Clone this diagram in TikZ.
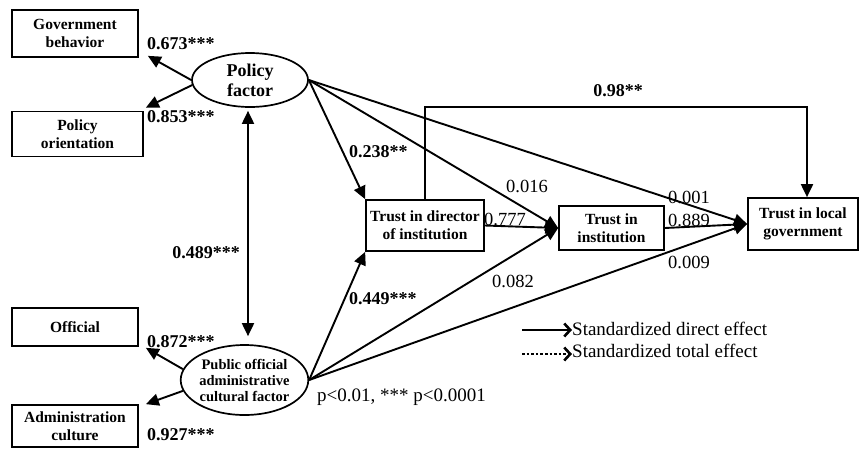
\documentclass[tikz,border=0pt]{standalone}
\usepackage{fontspec}
\setmainfont{Liberation Serif}
\usetikzlibrary{arrows.meta,calc,shapes.geometric}
\begin{document}
\begin{tikzpicture}[x=1pt,y=-1pt,
  box/.style={draw, line width=1.7pt, align=center, inner sep=0pt, font=\fontsize{15.5}{18}\selectfont\bfseries},
  ell/.style={draw, ellipse, line width=1.7pt, align=center, inner sep=0pt},
  arr/.style={line width=1.9pt, -{Triangle[length=13pt,width=12pt]}},
  dbl/.style={line width=1.9pt, {Triangle[length=13pt,width=12pt]}-{Triangle[length=13pt,width=12pt]}},
  lbl/.style={inner sep=0pt, font=\fontsize{18}{20}\selectfont\bfseries},
  num/.style={inner sep=0pt, font=\fontsize{18.5}{20}\selectfont},
  leg/.style={inner sep=0pt, anchor=west, font=\fontsize{19}{21}\selectfont}]
\useasboundingbox (0,0) rectangle (859,448);

% boxes
\node[box, minimum width=126pt, minimum height=47pt] (gov) at (75,33.5) {Government\\behavior};
\node[box, minimum width=131pt, minimum height=45pt] (por) at (77.5,134) {Policy\\orientation};
\node[box, minimum width=126pt, minimum height=38pt] (off) at (75,327) {Official};
\node[box, minimum width=126pt, minimum height=42pt] (adm) at (75,426) {Administration\\culture};
\node[box, minimum width=118pt, minimum height=51pt] (tdi) at (425,225.5) {Trust in director\\of institution};
\node[box, minimum width=105pt, minimum height=44pt] (tin) at (611.5,228) {Trust in\\institution};
\node[box, minimum width=110pt, minimum height=52pt] (tlg) at (803,224) {Trust in local\\government};

% ellipses
\node[ell, minimum width=116pt, minimum height=54pt, font=\fontsize{18}{20}\selectfont\bfseries] (pf) at (250,80) {Policy\\factor};
\node[ell, minimum width=123pt, minimum height=70pt, font=\fontsize{14.5}{16}\selectfont\bfseries] (pub) at (244.5,380) {Public official\\administrative\\cultural factor};

% measurement arrows
\draw[arr] (pf.west) -- ([shift={(9,-2)}]gov.south east);
\draw[arr] (pf.185) -- ([shift={(2,-3)}]por.north east);
\draw[arr] (pub.170) -- ([shift={(7,1)}]off.south east);
\draw[arr] (pub.190) -- ([shift={(7,0)}]adm.north east);

% correlation
\draw[dbl] ($(pf.south)+(-2,3)$) -- ($(pub.north)+(3.5,-8)$);

% structural paths
\draw[arr] (pf.east) -- (tdi.north west);
\draw[arr] (pf.east) -- (tin.west);
\draw[arr] (pf.east) -- (tlg.west);
\draw[arr] (pub.east) -- (tdi.south west);
\draw[arr] (pub.east) -- (tin.west);
\draw[arr] (pub.east) -- (tlg.west);
\draw[arr] (tdi.east) -- (tin.west);
\draw[arr] (tin.east) -- (tlg.west);
\draw[arr] (tdi.north) -- (tdi.north |- 0,107) -| ([xshift=4pt]tlg.north);

% labels
\node[lbl, anchor=west] (l673) at (147,44) {0.673***};
\node[lbl, anchor=west] (l853) at (147,117) {0.853***};
\node[lbl] (l489) at (206,253) {0.489***};
\node[lbl, anchor=west] (l872) at (147,342) {0.872***};
\node[lbl, anchor=west] (l927) at (147,435) {0.927***};
\node[lbl, anchor=west] (l238) at (349,152) {0.238**};
\node[lbl, anchor=west] (l449) at (349,299) {0.449***};
\node[lbl] (l98) at (618,91) {0.98**};
\node[num] (l016) at (527,186) {0.016};
\node[num] (l777) at (505,219) {0.777};
\node[num] (l001) at (689,197) {0.001};
\node[num] (l889) at (689,220) {0.889};
\node[num] (l009) at (689,262) {0.009};
\node[num] (l082) at (513,281) {0.082};
\node[leg] (pval) at (317,397) {p<0.01, *** p<0.0001};

% legend
\node[leg] (leg1) at (572,329) {Standardized direct effect};
\node[leg] (leg2) at (572,351) {Standardized total effect};
\coordinate (s1) at (522,330);
\coordinate (s2) at (522,354);
\draw[line width=2.6pt, -{Straight Barb[length=6pt,width=13pt]}] (s1) -- (s1 -| leg1.west);
\draw[line width=2.6pt, dotted, -{Straight Barb[length=6pt,width=13pt]}] (s2) -- (s2 -| leg2.west);
\end{tikzpicture}
\end{document}
